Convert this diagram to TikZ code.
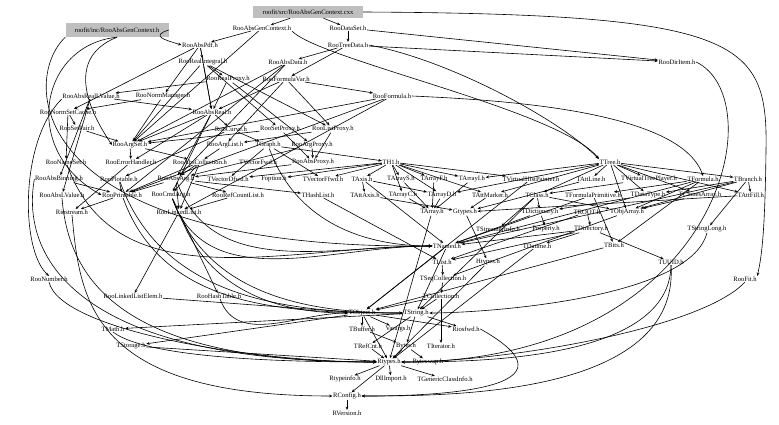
\documentclass[tikz,border=0pt]{standalone}
\usepackage{fontspec}
\setmainfont{Liberation Serif}
\usetikzlibrary{arrows.meta}
\begin{document}
\begin{tikzpicture}[x=1pt,y=-1pt,
  nd/.style={inner sep=0.5pt,font=\fontsize{6.6}{7}\selectfont},
  gbox/.style={fill=black!25,draw=none},
  e/.style={line width=0.6pt,-{Stealth[length=3.4pt,width=2.8pt]}}]
\useasboundingbox (0,0) rectangle (779,425);
\fill[white] (0,0) rectangle (779,425);
\node[nd,gbox,minimum width=110pt,minimum height=12pt] (cxx) at (308,12) {roofit/src/RooAbsGenContext.cxx};
\node[nd,gbox,minimum width=103pt,minimum height=14pt] (inc) at (117,30) {roofit/inc/RooAbsGenContext.h};
\node[nd] (AGC) at (262,28) {RooAbsGenContext.h};
\node[nd] (DS) at (348,28) {RooDataSet.h};
\node[nd] (TD) at (348,45) {RooTreeData.h};
\node[nd] (APdf) at (200,45) {RooAbsPdf.h};
\node[nd] (RI) at (203,62) {RooRealIntegral.h};
\node[nd] (AD) at (288,62) {RooAbsData.h};
\node[nd] (DI) at (677,62) {RooDirItem.h};
\node[nd] (RP) at (228,79) {RooRealProxy.h};
\node[nd] (FV) at (286,79) {RooFormulaVar.h};
\node[nd] (ARLV) at (91,96) {RooAbsRealLValue.h};
\node[nd] (NM) at (163,96) {RooNormManager.h};
\node[nd] (Fml) at (392,96) {RooFormula.h};
\node[nd] (NSC) at (68,112) {RooNormSetCache.h};
\node[nd] (AR) at (212,112) {RooAbsReal.h};
\node[nd] (SP) at (77,128) {RooSetPair.h};
\node[nd] (Cur) at (231,129) {RooCurve.h};
\node[nd] (SPx) at (280,129) {RooSetProxy.h};
\node[nd] (LPx) at (333,129) {RooListProxy.h};
\node[nd] (AS) at (130,145) {RooArgSet.h};
\node[nd] (AL) at (225,145) {RooArgList.h};
\node[nd] (TGr) at (268,145) {TGraph.h};
\node[nd] (APx) at (312,145) {RooArgProxy.h};
\node[nd] (NS) at (66,162) {RooNameSet.h};
\node[nd] (EH) at (131,162) {RooErrorHandler.h};
\node[nd] (AC) at (200,162) {RooAbsCollection.h};
\node[nd] (TVF) at (258,162) {TVectorFwd.h};
\node[nd] (AbPx) at (313,162) {RooAbsProxy.h};
\node[nd] (TH1) at (391,162) {TH1.h};
\node[nd] (TTree) at (610,162) {TTree.h};
\node[nd] (AB) at (59,179) {RooAbsBinning.h};
\node[nd] (Plt) at (119,179) {RooPlotable.h};
\node[nd] (AA) at (176,179) {RooAbsArg.h};
\node[nd] (TVD) at (228,179) {TVectorDfwd.h};
\node[nd] (Fop) at (274,179) {Foption.h};
\node[nd] (TVFf) at (323,179) {TVectorFfwd.h};
\node[nd] (TAx) at (362,179) {TAxis.h};
\node[nd] (TAS) at (401,179) {TArrayS.h};
\node[nd] (TAF) at (434,179) {TArrayF.h};
\node[nd] (TAI) at (472,179) {TArrayI.h};
\node[nd] (TVHP) at (531,179) {TVirtualHistPainter.h};
\node[nd] (TAL) at (591,179) {TAttLine.h};
\node[nd] (TVTP) at (649,179) {TVirtualTreePlayer.h};
\node[nd] (TF) at (703,179) {TFormula.h};
\node[nd] (TBr) at (748,179) {TBranch.h};
\node[nd] (ALV) at (62,195) {RooAbsLValue.h};
\node[nd] (Prt) at (122,195) {RooPrintable.h};
\node[nd] (CA) at (171,195) {RooCmdArg.h};
\node[nd] (RCL) at (238,195) {RooRefCountList.h};
\node[nd] (THL) at (318,195) {THashList.h};
\node[nd] (TAA) at (365,195) {TAttAxis.h};
\node[nd] (TAC) at (403,195) {TArrayC.h};
\node[nd] (TAD) at (442,195) {TArrayD.h};
\node[nd] (TAM) at (490,195) {TAttMarker.h};
\node[nd] (TCl) at (537,195) {TClass.h};
\node[nd] (TFP) at (593,195) {TFormulaPrimitive.h};
\node[nd] (TDT) at (648,195) {TDataType.h};
\node[nd] (TCA) at (700,195) {TClonesArray.h};
\node[nd] (TAFi) at (751,195) {TAttFill.h};
\node[nd] (Rio) at (72,212) {Riostream.h};
\node[nd] (LL) at (179,212) {RooLinkedList.h};
\node[nd] (TAr) at (432,212) {TArray.h};
\node[nd] (Gt) at (465,212) {Gtypes.h};
\node[nd] (TDic) at (540,212) {TDictionary.h};
\node[nd] (TRO) at (587,212) {TROOT.h};
\node[nd] (TOA) at (627,212) {TObjArray.h};
\node[nd] (TSI) at (498,229) {TStreamerInfo.h};
\node[nd] (Prop) at (546,229) {Property.h};
\node[nd] (TDir) at (591,229) {TDirectory.h};
\node[nd] (TSL) at (707,229) {TStringLong.h};
\node[nd] (TN) at (447,246) {TNamed.h};
\node[nd] (TDa) at (537,246) {TDatime.h};
\node[nd] (TBi) at (614,245) {TBits.h};
\node[nd] (TLi) at (442,262) {TList.h};
\node[nd] (Ht) at (488,262) {Htypes.h};
\node[nd] (TUU) at (671,262) {TUUID.h};
\node[nd] (TSC) at (443,279) {TSeqCollection.h};
\node[nd] (RNum) at (49,279) {RooNumber.h};
\node[nd] (RF) at (745,279) {RooFit.h};
\node[nd] (LLE) at (133,296) {RooLinkedListElem.h};
\node[nd] (RHT) at (219,296) {RooHashTable.h};
\node[nd] (TCo) at (441,296) {TCollection.h};
\node[nd] (TObj) at (362,313) {TObject.h};
\node[nd] (TStr) at (416,313) {TString.h};
\node[nd] (TM) at (113,329) {TMath.h};
\node[nd] (TBu) at (362,329) {TBuffer.h};
\node[nd] (Va) at (398,329) {Varargs.h};
\node[nd] (Rfw) at (466,329) {Riosfwd.h};
\node[nd] (TSt) at (131,346) {TStorage.h};
\node[nd] (TRC) at (368,346) {TRefCnt.h};
\node[nd] (By) at (406,346) {Bytes.h};
\node[nd] (TIt) at (441,346) {TIterator.h};
\node[nd] (Rt) at (389,362) {Rtypes.h};
\node[nd] (Bsw) at (428,362) {Byteswap.h};
\node[nd] (Rti) at (345,379) {Rtypeinfo.h};
\node[nd] (Dll) at (391,379) {DllImport.h};
\node[nd] (TGCI) at (445,379) {TGenericClassInfo.h};
\node[nd] (RC) at (347,396) {RConfig.h};
\node[nd] (RV) at (347,413) {RVersion.h};
% straight connectors
\foreach \a/\b in {cxx/AGC, cxx/DS, AGC/APdf, AGC/AS, DS/TD, TD/AD, TD/FV,
  APdf/AR, APdf/RI, APdf/NM, APdf/NSC, RI/AR, RI/SPx, RI/RP, RI/LPx, RI/AS,
  AD/AA, AD/AS, AD/Prt, RP/AR, RP/APx, RP/ARLV, FV/AR, FV/Fml, FV/AL, FV/LPx,
  Fml/AS, Fml/Prt, Fml/LL, ARLV/AR, ARLV/ALV, ARLV/AB, NM/NSC, NM/AS,
  NSC/SP, NSC/NS, SP/AS, AR/AA, AR/CA, AR/Cur, AR/AS, AR/EH, Cur/TGr, Cur/Plt,
  SPx/AS, SPx/AbPx, LPx/AL, LPx/AbPx, AS/AC, AS/EH, AL/AC,
  TGr/TH1, TGr/TVFf, TGr/TVD, APx/AbPx, APx/AA, AC/AA, AC/Prt, AC/LL, AC/CA,
  TH1/TAx, TH1/TAS, TH1/TAF, TH1/TAC, TH1/TAD, TH1/TAI, TH1/TVHP, TH1/TAM, TH1/Fop, TH1/TVFf, TH1/TVD,
  TTree/TBr, TTree/TAL, TTree/TAFi, TTree/TAM, TTree/TAD, TTree/TAI, TTree/TVTP, TTree/TDT, TTree/TCl, TTree/TOA, TTree/TCA,
  TF/TFP, TF/TN, TF/TBi, TF/TOA, TBr/TN, TBr/TOA, TBr/TAFi, TBr/TDT, TBr/TSL,
  AA/THL, AA/Prt, AA/RCL, AA/LL, AbPx/AA, TAx/TN, TAx/TAA, TAx/TAD,
  TAS/TAr, TAF/TAr, TAI/TAr, TAC/TAr, TAD/TAr, TAr/Rt, TAM/Gt, TAL/Gt, TAFi/Gt, TAA/Gt,
  TCl/TDic, TCl/TStr, TCl/TOA, TCl/TSI, TDic/TN, TDic/Prop, TDT/TDic, TVHP/TObj, TVTP/TCl,
  TOA/TSC, TCA/TOA, TRO/TDir, TRO/TLi, TDir/TN, TDir/TDa, TDir/TLi, TDir/TUU,
  TN/TObj, TN/TStr, TLi/TSC, THL/TLi, TSC/TCo, TCo/TObj, TCo/TIt, TCo/TStr,
  TObj/Rt, TObj/TSt, TObj/Rfw, TObj/Va, TObj/TBu, TStr/TRC, TStr/TM, TStr/By, TStr/Rfw,
  TBu/By, TRC/Rt, By/Rt, By/Bsw, Rt/RC, Rt/Dll, Rt/Rti, Rt/TGCI, RC/RV,
  TSt/Rt, TBi/TObj, TDa/Rt, Gt/Ht, Ht/Rt, Prt/Rio, Plt/Prt,
  LL/LLE, LL/RHT, LLE/TObj, RCL/LL, CA/LL,
  AB/Prt, EH/Rio, TFP/TN, TFP/TBi, TD/DI, DS/DI}
  \draw[e] (\a) -- (\b);
% connectors that sweep down and enter from the left
\foreach \a/\b in {Prt/TStr, Plt/TStr, CA/TStr, LL/TObj, RHT/TObj, AA/TN, CA/TN, NS/TN, TGr/TN}
  \draw[e] (\a) to[out=-70,in=180] (\b);
% curved connectors
\draw[e] (cxx.east) .. controls (740,14) and (768,40) .. (766,150) .. controls (765,230) and (762,255) .. (RF.north east);
\draw[e] (inc.east) .. controls (150,36) and (165,40) .. (APdf.west);
\draw[e] (inc.south) .. controls (40,45) and (20,150) .. (Prt.west);
\draw[e] (inc.south) .. controls (60,60) and (95,120) .. (AS.west);
\draw[e] (inc.south west) .. controls (20,80) and (25,250) .. (TN.west);
\draw[e] (AGC.south east) .. controls (320,60) and (560,110) .. (TTree.north west);
\draw[e] (TD.east) .. controls (450,60) and (560,120) .. (TTree.north west);
\draw[e] (Fml.east) .. controls (500,100) and (680,110) .. (TF.north);
\draw[e] (ARLV.south west) .. controls (20,140) and (20,250) .. (RNum.north);
\draw[e] (RNum.south) .. controls (60,330) and (250,362) .. (Rt.west);
\draw[e] (Rio.south) .. controls (80,300) and (90,396) .. (RC.west);
\draw[e] (AB.west) .. controls (20,260) and (80,362) .. (Rt.west);
\draw[e] (ALV.south) .. controls (70,300) and (150,362) .. (Rt.west);
\draw[e] (DI.east) .. controls (775,100) and (720,362) .. (Rt.east);
\draw[e] (RF.south) .. controls (700,330) and (500,362) .. (Rt.east);
\draw[e] (TUU.south) .. controls (670,360) and (480,362) .. (Rt.east);
\draw[e] (TSL.south) .. controls (690,300) and (480,313) .. (TStr.east);
\draw[e] (TM.south) .. controls (150,360) and (300,362) .. (Rt.west);
\draw[e] (Rfw.east) .. controls (600,396) and (400,396) .. (RC.east);
\draw[e] (TUU.south) .. controls (680,396) and (450,396) .. (RC.east);
\end{tikzpicture}
\end{document}
